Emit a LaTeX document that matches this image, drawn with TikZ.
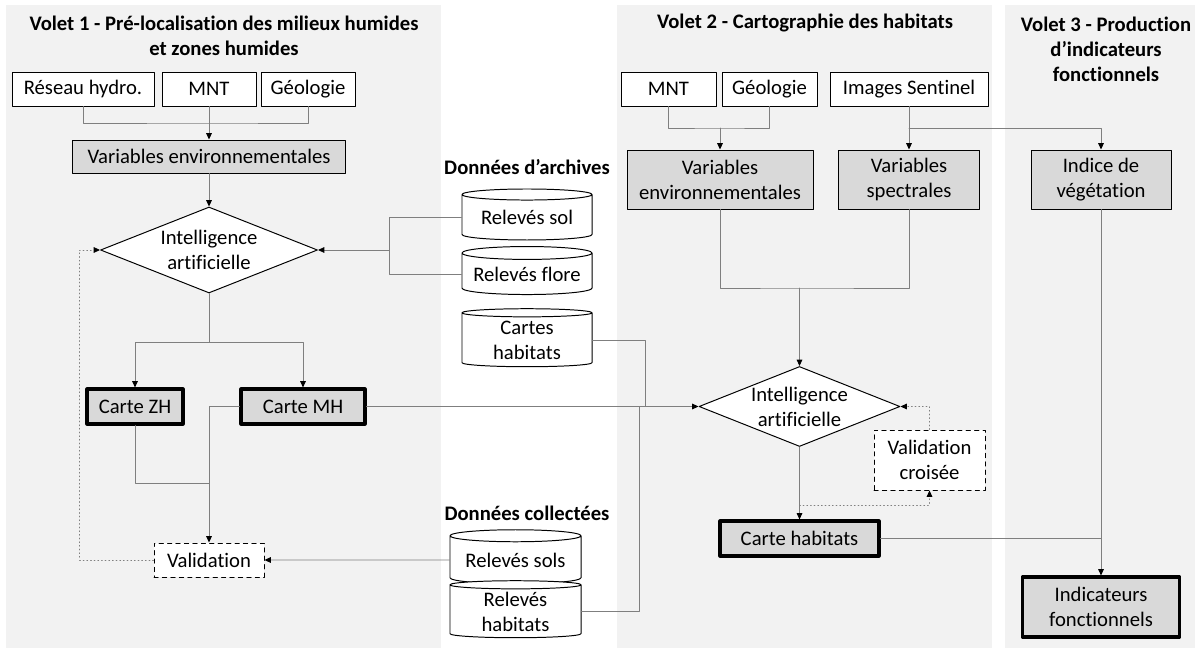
\documentclass[tikz,border=0pt]{standalone}
\usepackage{fontspec}
\setmainfont{Carlito}[Ligatures=CommonOff]
\usepackage{tikz}
\usetikzlibrary{calc}
\usetikzlibrary{arrows.meta}
\usetikzlibrary{shapes.geometric}
\definecolor{panelg}{HTML}{F2F2F2}
\definecolor{boxg}{HTML}{D9D9D9}
\definecolor{lineg}{HTML}{7F7F7F}
\newcommand{\px}{0.025cm}
\tikzstyle{every node}=[font=\fontsize{14.7}{17.8}\selectfont]
\tikzstyle{box}=[draw=black,fill=white,line width=0.7pt,inner sep=0pt,align=center]
\tikzstyle{greybox}=[box,fill=boxg]
\tikzstyle{thickbox}=[greybox,line width=2.2pt]
\tikzstyle{dashbox}=[box,dashed]
\tikzstyle{decision}=[diamond,draw=black,fill=white,line width=0.7pt,inner sep=-2pt,aspect=2.5,align=center]
\tikzstyle{database}=[cylinder,shape border rotate=90,aspect=0.12,draw=black,fill=white,line width=0.7pt,inner sep=0pt,align=center]
\tikzstyle{link}=[draw=lineg,line width=0.6pt]
\tikzstyle{title}=[font=\fontsize{14.7}{17.8}\selectfont\bfseries,align=center]

\begin{document}
\begin{tikzpicture}[line cap=round,line join=round,>={Triangle[length=4.5pt,width=4pt,color=black]},x=0.025cm,y=-0.025cm]
                    \useasboundingbox (0,0) rectangle (1195,649);
                    \fill [panelg] (6,5) rectangle (441,648);
                    \fill [panelg] (617,5) rectangle (992,648);
                    \fill [panelg] (1005,5) rectangle (1195,648);
                    % titles
                    \node [title] (t1) at (224,36) {Volet 1 - Pré-localisation des milieux humides\\et zones humides};
                    \node [title] (t2) at (805,23) {Volet 2 - Cartographie des habitats};
                    \node [title] (t3) at (1106,49) {Volet 3 - Production\\d’indicateurs\\fonctionnels};
                    \node [title] (tarch) at (527,167) {Données d’archives};
                    \node [title] (tcoll) at (527,513) {Données collectées};
                    % volet 1
                    \node [box,minimum width=142*\px,minimum height=34*\px] (rh) at (83,89) {Réseau hydro.};
                    \node [box,minimum width=94*\px,minimum height=34*\px] (mnt1) at (209,89) {MNT};
                    \node [box,minimum width=94*\px,minimum height=34*\px] (geo1) at (308,89) {Géologie};
                    \node [greybox,minimum width=273*\px,minimum height=33*\px] (venv1) at (209,156.5) {Variables environnementales};
                    \node [decision,minimum width=217*\px,minimum height=86*\px] (ia1) at (209,250) {Intelligence\\artificielle};
                    \node [thickbox,minimum width=96*\px,minimum height=35*\px] (czh) at (135,406.5) {Carte ZH};
                    \node [thickbox,minimum width=124*\px,minimum height=35*\px] (cmh) at (303,406.5) {Carte MH};
                    \node [dashbox,minimum width=110*\px,minimum height=34*\px] (valid) at (209,560) {Validation};
                    % donnees
                    \node [database,minimum width=130*\px,minimum height=51*\px] (rsol) at (527,217.5) {Relevés sol};
                    \node [database,minimum width=130*\px,minimum height=48*\px] (rflore) at (527,274) {Relevés flore};
                    \node [database,minimum width=130*\px,minimum height=58*\px] (chab) at (527,340) {Cartes\\habitats};
                    \node [database,minimum width=131*\px,minimum height=54*\px] (rsols) at (515.5,560) {Relevés sols};
                    \node [database,minimum width=131*\px,minimum height=57*\px] (rhab) at (515.5,611.5) {Relevés\\habitats};
                    % volet 2
                    \node [box,minimum width=95*\px,minimum height=34*\px] (mnt2) at (668.5,89) {MNT};
                    \node [box,minimum width=95*\px,minimum height=34*\px] (geo2) at (769.5,89) {Géologie};
                    \node [box,minimum width=158*\px,minimum height=34*\px] (sent) at (909,89) {Images Sentinel};
                    \node [greybox,minimum width=186*\px,minimum height=59*\px] (venv2) at (720,179.5) {Variables\\environnementales};
                    \node [greybox,minimum width=141*\px,minimum height=59*\px] (vspec) at (909,179.5) {Variables\\spectrales};
                    \node [decision,minimum width=201*\px,minimum height=80*\px] (ia2) at (799.5,406.5) {Intelligence\\artificielle};
                    \node [dashbox,minimum width=111*\px,minimum height=60*\px] (valcr) at (929.5,460) {Validation\\croisée};
                    \node [thickbox,minimum width=159*\px,minimum height=35*\px] (chabit) at (799.5,538.5) {Carte habitats};
                    % volet 3
                    \node [greybox,minimum width=140*\px,minimum height=59*\px] (indice) at (1101,179.5) {Indice de\\végétation};
                    \node [thickbox,minimum width=157*\px,minimum height=60*\px] (indic) at (1101,607) {Indicateurs\\fonctionnels};
                    % liens volet 1
                    \coordinate (j1) at (209,123);
                    \draw [link] (rh.south) |- (j1) -| (geo1.south);
                    \draw [link,->] (mnt1.south) -- (venv1.north);
                    \draw [link,->] (venv1.south) -- (ia1.north);
                    \coordinate (j2) at (209,342);
                    \draw [link] (ia1.south) -- (j2);
                    \draw [link,->] (j2) -| (czh.north);
                    \draw [link,->] (j2) -| (cmh.north);
                    \draw [link] (czh.south) |- (209,483);
                    \draw [link,->] (cmh.west) -| (valid.north);
                    \draw [link,dotted,->] (valid.west) -- ++(-74,0) |- (ia1.west);
                    \coordinate (j4) at (389,250);
                    \draw [link] (rsol.west) -| (j4);
                    \draw [link] (rflore.west) -| (j4);
                    \draw [link,->] (j4) -- (ia1.east);
                    \draw [link,->] (rsols.west) -- (valid.east);
                    \draw [link,->] (cmh.east) -- (ia2.west);
                    \draw [link] (chab.east) -| (645,406.5);
                    \draw [link] (rhab.east) -| (639,406.5);
                    % liens volet 2 et 3
                    \coordinate (j5) at (720,128);
                    \draw [link] (mnt2.south) |- (j5) -| (geo2.south);
                    \draw [link,->] (j5) -- (venv2.north);
                    \draw [link,->] (sent.south) -- (vspec.north);
                    \draw [link,->] (sent.south |- j5) -| (indice.north);
                    \coordinate (j6) at (799.5,288);
                    \draw [link] (venv2.south) |- (j6) -| (vspec.south);
                    \draw [link,->] (j6) -- (ia2.north);
                    \draw [link,->] (ia2.south) -- (chabit.north);
                    \draw [link,dotted,->] (799.5,505) -| (valcr.south);
                    \draw [link,dotted,->] (valcr.north) |- (ia2.east);
                    \draw [link,->] (indice.south) -- (indic.north);
                    \draw [link] (chabit.east) -- (chabit.east -| indic.north);
                    \end{tikzpicture}
\end{document}
